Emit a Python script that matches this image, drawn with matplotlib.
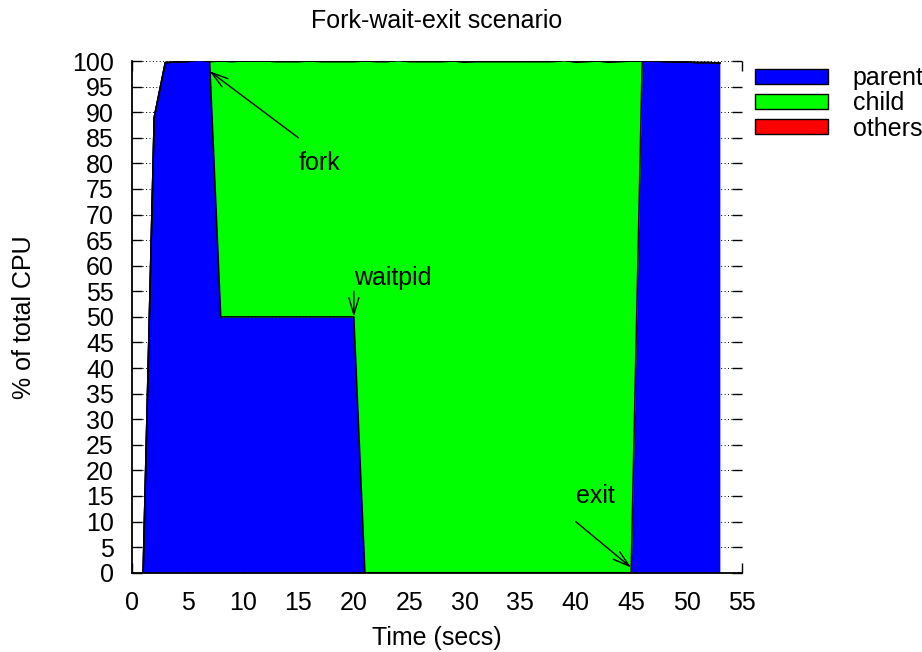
import numpy as np
import matplotlib
matplotlib.use("Agg")
import matplotlib.pyplot as plt
from matplotlib.patches import Patch

plt.rcParams["font.family"] = ["Liberation Sans", "DejaVu Sans"]

# --- dane (próbki co 1 s) ---
seconds = list(range(1, 54))

parent = [0, 89, 99.7, 99.8, 99.9, 100.2, 99.9,
          50, 50, 50, 50, 50, 50, 50, 50, 50, 50, 50, 50, 50,
          0, 0, 0, 0, 0, 0, 0, 0, 0, 0, 0, 0, 0, 0, 0, 0, 0, 0, 0, 0, 0, 0, 0, 0, 0,
          100, 100, 99.9, 99.8, 99.8, 99.7, 99.7, 99.6]

child = [0, 0, 0, 0, 0, 0, 0,
         50, 49.9, 50, 50, 50, 49.9, 49.9, 49.9, 50, 49.9, 49.9, 49.9, 49.9,
         100, 99.9, 99.9, 100.1, 99.9, 99.9, 99.9, 99.9, 100, 99.8, 99.9, 99.9,
         99.9, 99.9, 99.9, 99.9, 99.9, 99.9, 100.1, 99.8, 99.9, 100, 99.8, 99.9, 100,
         0, 0, 0, 0, 0, 0, 0, 0]

others = [0] * len(seconds)

series_names = ["parent", "child", "others"]
series_colors = ["#0000ff", "#00ff00", "#ff0000"]

# --- rysunek ---
fig = plt.figure(figsize=(9.22, 6.52), dpi=100)
ax = fig.add_axes([0.1432, 0.1216, 0.6616, 0.7848])

t = np.array(seconds, dtype=float)
bottom = np.zeros_like(t)
for vals, color in zip([parent, child, others], series_colors):
    top = bottom + np.array(vals, dtype=float)
    ax.fill_between(t, bottom, top, color=color, linewidth=0, zorder=1)
    ax.plot(t, top, color="black", linewidth=1.1, zorder=2)
    bottom = top

ax.set_xlim(0, 55)
ax.set_ylim(0, 100)
ax.set_xticks(np.arange(0, 56, 5))
ax.set_yticks(np.arange(0, 101, 5))

ax.set_axisbelow(True)
ax.yaxis.grid(True, linestyle=(0, (1, 2.5)), color="black", linewidth=0.7)
ax.tick_params(axis="both", direction="in", length=7, width=1,
               labelsize=18, pad=13, top=True, right=True)

ax.spines["top"].set_visible(False)
ax.spines["right"].set_visible(False)
for side in ("left", "bottom"):
    ax.spines[side].set_linewidth(1.3)

ax.set_xlabel("Time (secs)", fontsize=18, labelpad=8)
ax.set_ylabel("% of total CPU", fontsize=18)
ax.yaxis.set_label_coords(-0.157, 0.5)
fig.text(437 / 922, 1 - 21 / 652, "Fork-wait-exit scenario",
         fontsize=18, ha="center", va="center")

# adnotacje
arrow = dict(arrowstyle="->,head_length=1.0,head_width=0.3", lw=1.0,
             color="black", mutation_scale=12, shrinkA=0, shrinkB=0)
ax.annotate("", xy=(7, 98), xytext=(15, 85), arrowprops=arrow, zorder=3)
ax.text(15, 80, "fork", fontsize=18, ha="left", va="center", zorder=3)
ax.annotate("", xy=(20, 50), xytext=(20, 55), arrowprops=arrow, zorder=3)
ax.text(20, 57.5, "waitpid", fontsize=18, ha="left", va="center", zorder=3)
ax.annotate("", xy=(45, 1), xytext=(40, 10), arrowprops=arrow, zorder=3)
ax.text(40, 15, "exit", fontsize=18, ha="left", va="center", zorder=3)

# legenda po prawej
handles = [Patch(facecolor=c, edgecolor="black", linewidth=1, label=n)
           for n, c in zip(series_names, series_colors)]
ax.legend(handles=handles, loc="upper left", bbox_to_anchor=(1.021, 0.99),
          frameon=False, fontsize=18, borderpad=0, borderaxespad=0,
          handlelength=2.92, handleheight=0.52, handletextpad=1.0,
          labelspacing=0.05)

fig.savefig("out.png", dpi=100)
